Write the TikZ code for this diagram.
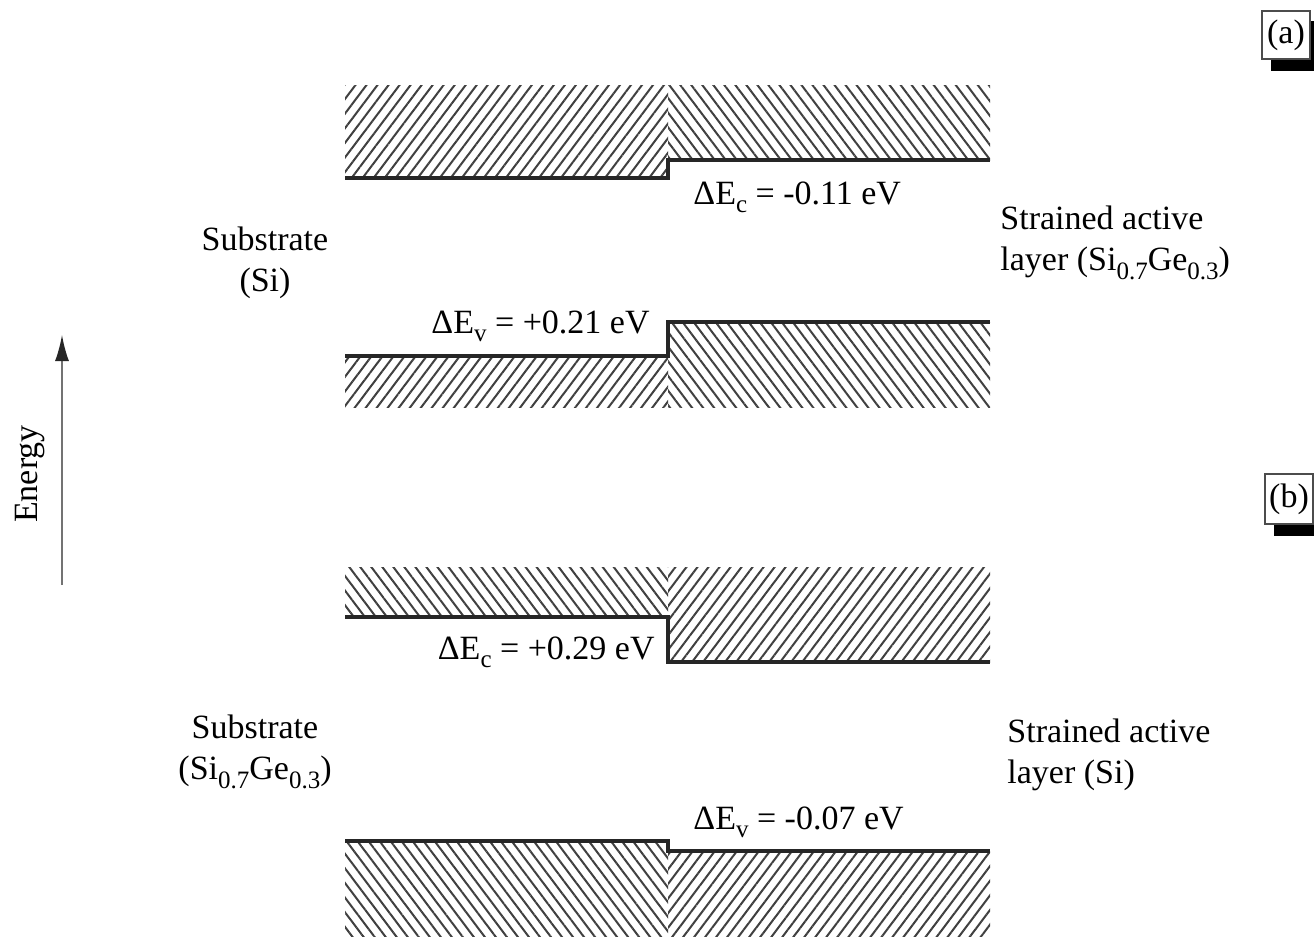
\documentclass[tikz,border=0pt]{standalone}
\usepackage{fontspec}
\setmainfont{Liberation Serif}
\usetikzlibrary{arrows.meta,patterns.meta,shadows}
\newcommand\lowsub[1]{\raisebox{-0.55ex}{\fontsize{12.5}{13}\selectfont #1}}
\tikzset{
  bandedge/.style={black!85,line width=1.6pt},
  hatchne/.style={pattern={Lines[angle=53,distance=4.4pt,line width=1pt]},pattern color=black!75},
  hatchnw/.style={pattern={Lines[angle=-53,distance=4.4pt,line width=1pt]},pattern color=black!75},
  energyaxis/.style={black!55,line width=0.8pt,-{Latex[length=13pt,width=7pt,black!85]}},
  bandtext/.style={inner sep=0pt},
  tagbox/.style={draw=black!70,fill=white,line width=0.8pt,inner sep=0pt,minimum width=24pt,minimum height=24pt,
    copy shadow={shadow xshift=5pt,shadow yshift=-5.5pt,fill=black,draw=black}}
}
\begin{document}
\begin{tikzpicture}[x=0.5pt,y=-0.5pt,font=\fontsize{17}{20.5}\selectfont]
\useasboundingbox (0,0) rectangle (1314,937);
\def\xl{345}
\def\xm{668}
\def\xr{990}
% (a) Si substrate, SiGe layer
\fill[hatchne] (\xl,85) rectangle (\xm,178);
\fill[hatchnw] (\xm,85) rectangle (\xr,160);
\draw[bandedge] (\xl,178) -- (\xm,178) -- (\xm,160) -- (\xr,160);
\fill[hatchne] (\xl,356) rectangle (\xm,407);
\fill[hatchnw] (\xm,322) rectangle (\xr,407);
\draw[bandedge] (\xl,356) -- (\xm,356) -- (\xm,322) -- (\xr,322);
% (b) SiGe substrate, Si layer
\fill[hatchnw] (\xl,567) rectangle (\xm,617);
\fill[hatchne] (\xm,567) rectangle (\xr,662);
\draw[bandedge] (\xl,617) -- (\xm,617) -- (\xm,662) -- (\xr,662);
\fill[hatchnw] (\xl,841) rectangle (\xm,937);
\fill[hatchne] (\xm,851) rectangle (\xr,937);
\draw[bandedge] (\xl,841) -- (\xm,841) -- (\xm,851) -- (\xr,851);
% offsets
\node[bandtext,anchor=base west] (dEca) at (693,204) {ΔE\lowsub{c} = -0.11 eV};
\node[bandtext,anchor=base east] (dEva) at (650,333) {ΔE\lowsub{v} = +0.21 eV};
\node[bandtext,anchor=base east] (dEcb) at (655,659) {ΔE\lowsub{c} = +0.29 eV};
\node[bandtext,anchor=base west] (dEvb) at (693,829) {ΔE\lowsub{v} = -0.07 eV};
% layer names
\node[bandtext,align=center] (subsa) at (265,263) {Substrate\\(Si)};
\node[bandtext,align=left,anchor=west] (acta) at (1000,243) {Strained active\\layer (Si\lowsub{0.7}Ge\lowsub{0.3})};
\node[bandtext,align=center] (subsb) at (255,752) {Substrate\\(Si\lowsub{0.7}Ge\lowsub{0.3})};
\node[bandtext,align=left,anchor=west] (actb) at (1007,755) {Strained active\\layer (Si)};
% energy axis
\coordinate (elo) at (62,585);
\coordinate (ehi) at (62,335);
\draw[energyaxis] (elo) -- (ehi);
\node[bandtext,rotate=90] (energy) at (30,474) {Energy};
% panel tags
\node[tagbox] (taga) at (1286,35) {(a)};
\node[tagbox,minimum height=25pt] (tagb) at (1289,499) {(b)};
\end{tikzpicture}
\end{document}
